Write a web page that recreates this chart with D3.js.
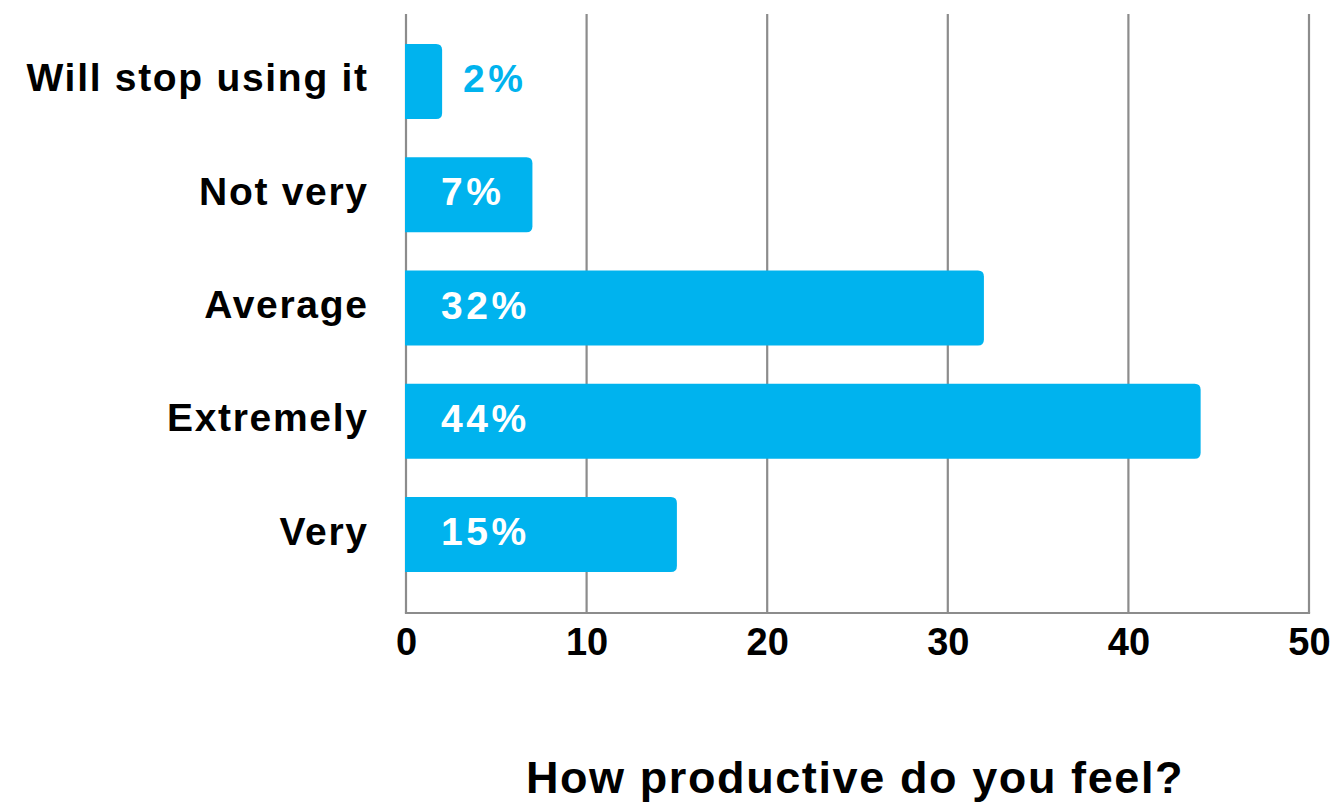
<!DOCTYPE html>
<html>
<head>
<meta charset="utf-8">
<script src="https://cdn.jsdelivr.net/npm/d3@7"></script>
<style>
  html, body { margin: 0; padding: 0; background: #fff; }
  svg { display: block; }
</style>
</head>
<body>
<div id="chart"></div>
<script>
// Survey responses: how productive respondents feel
const categories = ["Will stop using it", "Not very", "Average", "Extremely", "Very"];
const values = [2, 7, 32, 44, 15];
const tickValues = [0, 10, 20, 30, 40, 50];
const axisTitle = "How productive do you feel?";

const W = 1337, H = 806;
const plot = { left: 406, right: 1309, top: 14, bottom: 613 };
const barColor = "#00B3EE";
const gridColor = "#8c8c8c";
const font = "'Liberation Sans', Arial, Helvetica, sans-serif";

const svg = d3.select("#chart").append("svg")
  .attr("width", W).attr("height", H);

const x = d3.scaleLinear().domain([0, 50]).range([plot.left, plot.right]);
const y = d3.scaleBand().domain(categories)
  .range([plot.top, 602])
  .paddingInner(0.338)
  .paddingOuter(0.265);

// vertical gridlines
svg.append("g").selectAll("line")
  .data(tickValues)
  .join("line")
  .attr("x1", d => x(d)).attr("x2", d => x(d))
  .attr("y1", plot.top).attr("y2", plot.bottom)
  .attr("stroke", gridColor).attr("stroke-width", 2.2);

// bottom axis line
svg.append("line")
  .attr("x1", plot.left - 1.1).attr("x2", plot.right + 1.1)
  .attr("y1", plot.bottom).attr("y2", plot.bottom)
  .attr("stroke", gridColor).attr("stroke-width", 2.2);

// bars with rounded right end
const r = 6;
function barPath(d, i) {
  const x0 = x(0) - 1, x1 = x(d);
  const y0 = y(categories[i]), h = y.bandwidth();
  return `M${x0},${y0} H${x1 - r} Q${x1},${y0} ${x1},${y0 + r} V${y0 + h - r} Q${x1},${y0 + h} ${x1 - r},${y0 + h} H${x0} Z`;
}
svg.append("g").selectAll("path")
  .data(values)
  .join("path")
  .attr("d", barPath)
  .attr("fill", barColor);

// value labels: inside the bar in white, or just past a short bar in bar colour
const inside = d => x(d) - x(0) >= 80;
svg.append("g").selectAll("text")
  .data(values)
  .join("text")
  .attr("x", d => (inside(d) ? x(0) + 35 : x(d) + 21))
  .attr("y", (d, i) => y(categories[i]) + y.bandwidth() / 2 + 10.5)
  .attr("fill", d => (inside(d) ? "#fff" : barColor))
  .attr("font-family", font)
  .attr("font-weight", 700)
  .attr("font-size", 39)
  .attr("letter-spacing", 3.5)
  .text(d => d + "%");

// category labels
const catSpacing = 1.7;
svg.append("g").selectAll("text")
  .data(categories)
  .join("text")
  .attr("x", 367 + catSpacing)
  .attr("y", d => y(d) + y.bandwidth() / 2 + 10)
  .attr("text-anchor", "end")
  .attr("fill", "#000")
  .attr("font-family", font)
  .attr("font-weight", 700)
  .attr("font-size", 39)
  .attr("letter-spacing", catSpacing)
  .text(d => d);

// x tick labels
const xAxis = d3.axisBottom(x).tickValues(tickValues).tickSize(0).tickPadding(0);
const gx = svg.append("g").attr("transform", `translate(0, 655)`).call(xAxis);
gx.select(".domain").remove();
gx.selectAll("text")
  .attr("y", 0).attr("dy", 0)
  .attr("fill", "#000")
  .attr("font-family", font)
  .attr("font-weight", 700)
  .attr("font-size", 38);

// axis title
svg.append("text")
  .attr("x", 855).attr("y", 793)
  .attr("text-anchor", "middle")
  .attr("fill", "#000")
  .attr("font-family", font)
  .attr("font-weight", 700)
  .attr("font-size", 45)
  .attr("letter-spacing", 1.6)
  .text(axisTitle);
</script>
</body>
</html>
